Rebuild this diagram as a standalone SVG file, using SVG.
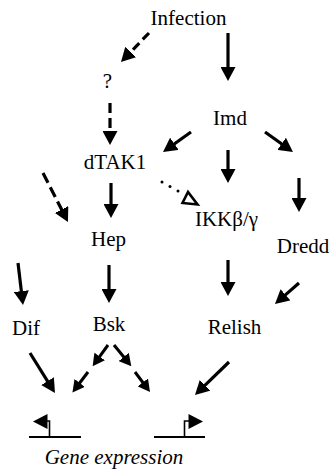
<svg xmlns="http://www.w3.org/2000/svg" width="329" height="475" viewBox="0 0 329 475">
<defs>
<style>
text{font-family:'Liberation Serif','Times New Roman',serif;font-size:21px;fill:#000;text-anchor:middle}
.a{stroke:#000;stroke-width:3.2;fill:none;marker-end:url(#ah)}
.s{stroke:#000;stroke-width:3;fill:none;marker-end:url(#ahs)}
.d{stroke-dasharray:10 5}
.g{stroke:#000;fill:none}
</style>
<marker id="ah" markerUnits="userSpaceOnUse" viewBox="0 0 14 15" markerWidth="14" markerHeight="15" refX="2" refY="7.5" orient="auto">
<path d="M0,0 L14,7.5 L0,15 Z" fill="#000"/>
</marker>
<marker id="ahs" markerUnits="userSpaceOnUse" viewBox="0 0 12 13" markerWidth="12" markerHeight="13" refX="2" refY="6.5" orient="auto">
<path d="M0,0 L12,6.5 L0,13 Z" fill="#000"/>
</marker>
</defs>
<g id="n-infection"><text x="188.5" y="25">Infection</text></g>
<g id="n-q"><text x="107.5" y="88">?</text></g>
<g id="n-imd"><text x="230" y="125">Imd</text></g>
<g id="n-dtak1"><text x="115" y="169">dTAK1</text></g>
<g id="n-hep"><text x="108.5" y="246">Hep</text></g>
<g id="n-ikk"><text x="226.5" y="226">IKKβ/γ</text></g>
<g id="n-dredd"><text x="303" y="253">Dredd</text></g>
<g id="n-dif"><text x="26" y="335">Dif</text></g>
<g id="n-bsk"><text x="109" y="331">Bsk</text></g>
<g id="n-relish"><text x="234.5" y="334">Relish</text></g>
<g id="n-gene-left">
<path class="g" stroke-width="2" d="M29,437 H81"/>
<path class="g" stroke-width="1.6" d="M49.5,437 V421 H46"/>
<path d="M33,421.5 L47.5,414 L47.5,429 Z" fill="#000"/>
</g>
<g id="n-gene-right">
<path class="g" stroke-width="2" d="M154,437 H205"/>
<path class="g" stroke-width="1.6" d="M184.5,437 V421 H189"/>
<path d="M203,421.5 L188.5,414 L188.5,429 Z" fill="#000"/>
</g>
<g id="n-gene-label"><text x="114" y="464" font-style="italic">Gene expression</text></g>
<g id="connectors">
<line class="a" x1="228" y1="33" x2="228" y2="69"/>
<line class="a" stroke-dasharray="9 5" x1="149" y1="33" x2="129.3" y2="53.4"/>
<line class="a d" x1="110" y1="103" x2="110" y2="133"/>
<line class="a" x1="191" y1="132" x2="172.8" y2="145"/>
<line class="a" x1="228" y1="150" x2="228" y2="171"/>
<line class="a" x1="265" y1="132" x2="283.2" y2="145"/>
<line class="a" x1="299" y1="178" x2="299" y2="200"/>
<line class="a" x1="111" y1="183" x2="111" y2="206"/>
<line class="a" stroke-dasharray="11 5" x1="43" y1="173" x2="62.5" y2="211.3"/>
<g id="dotted">
<circle cx="162" cy="182" r="1.5"/>
<circle cx="170" cy="186.5" r="1.5"/>
<circle cx="178" cy="191" r="1.5"/>
<polygon points="188,192 182.5,203 197.5,204.5" fill="#fff" stroke="#000" stroke-width="2.6" stroke-linejoin="miter"/>
</g>
<line class="a" x1="109" y1="265" x2="109" y2="291"/>
<line class="a" x1="18" y1="263" x2="21.6" y2="293.1"/>
<line class="a" x1="228" y1="260" x2="228" y2="284"/>
<line class="a" x1="299" y1="283" x2="284" y2="296.1"/>
<line class="a" x1="30" y1="353" x2="48.6" y2="382.8"/>
<line class="s" x1="108" y1="345" x2="98.5" y2="358.1"/>
<line class="s" x1="88" y1="372" x2="78.5" y2="384.5"/>
<line class="s" x1="114" y1="345" x2="125" y2="358.5"/>
<line class="s" x1="135" y1="372" x2="144" y2="384"/>
<line class="a" x1="229" y1="362" x2="203.6" y2="386.6"/>
</g>
</svg>
